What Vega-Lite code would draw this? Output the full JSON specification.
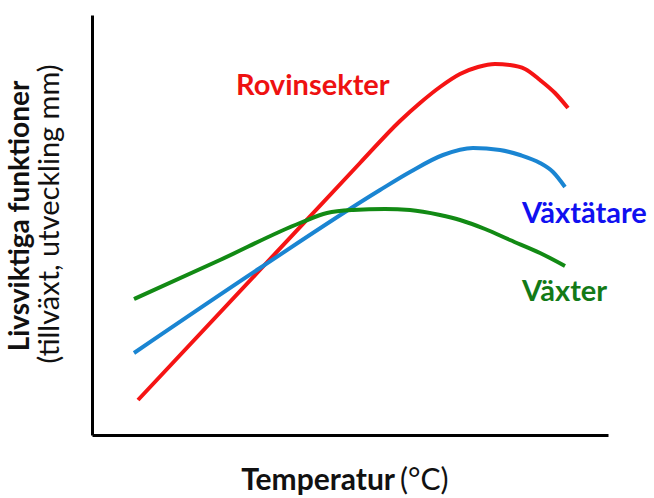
{
  "$schema": "https://vega.github.io/schema/vega-lite/v6.json",
  "width": 516,
  "height": 420,
  "autosize": {"type": "none"},
  "padding": {"left": 92, "top": 15, "right": 46, "bottom": 63},
  "background": "white",
  "config": {"view": {"stroke": null}, "font": "Lato"},
  "datasets": {
    "curves": [
      {"series": "Rovinsekter", "t": 46, "v": 35},
      {"series": "Rovinsekter", "t": 166, "v": 163},
      {"series": "Rovinsekter", "t": 268, "v": 272},
      {"series": "Rovinsekter", "t": 308, "v": 314},
      {"series": "Rovinsekter", "t": 328, "v": 332},
      {"series": "Rovinsekter", "t": 348, "v": 348},
      {"series": "Rovinsekter", "t": 368, "v": 361},
      {"series": "Rovinsekter", "t": 386, "v": 368},
      {"series": "Rovinsekter", "t": 403, "v": 371},
      {"series": "Rovinsekter", "t": 418, "v": 370},
      {"series": "Rovinsekter", "t": 433, "v": 366},
      {"series": "Rovinsekter", "t": 448, "v": 355},
      {"series": "Rovinsekter", "t": 463, "v": 342},
      {"series": "Rovinsekter", "t": 476, "v": 327},
      {"series": "Växtätare", "t": 42, "v": 82},
      {"series": "Växtätare", "t": 168, "v": 167},
      {"series": "Växtätare", "t": 288, "v": 245},
      {"series": "Växtätare", "t": 318, "v": 263},
      {"series": "Växtätare", "t": 351, "v": 280},
      {"series": "Växtätare", "t": 381, "v": 287},
      {"series": "Växtätare", "t": 408, "v": 285},
      {"series": "Växtätare", "t": 428, "v": 280},
      {"series": "Växtätare", "t": 448, "v": 272},
      {"series": "Växtätare", "t": 461, "v": 263},
      {"series": "Växtätare", "t": 473, "v": 248},
      {"series": "Växter", "t": 42, "v": 136},
      {"series": "Växter", "t": 128, "v": 175},
      {"series": "Växter", "t": 208, "v": 212},
      {"series": "Växter", "t": 235, "v": 222},
      {"series": "Växter", "t": 261, "v": 225},
      {"series": "Växter", "t": 293, "v": 226},
      {"series": "Växter", "t": 318, "v": 225},
      {"series": "Växter", "t": 348, "v": 220},
      {"series": "Växter", "t": 368, "v": 215},
      {"series": "Växter", "t": 393, "v": 206},
      {"series": "Växter", "t": 418, "v": 195},
      {"series": "Växter", "t": 448, "v": 182},
      {"series": "Växter", "t": 473, "v": 169}
    ],
    "labels": [
      {"label": "Rovinsekter", "t": 144, "v": 340},
      {"label": "Växtätare", "t": 430, "v": 212},
      {"label": "Växter", "t": 430, "v": 134}
    ],
    "xtitle": [
      {"text": "Temperatur", "part": "bold", "t": 303, "v": -55},
      {"text": "(°C)", "part": "normal", "t": 308, "v": -55}
    ],
    "ytitle": [
      {"text": "Livsviktiga funktioner", "part": "bold", "t": -71, "v": 219},
      {"text": "(tillväxt, utveckling mm)", "part": "normal", "t": -42, "v": 221}
    ]
  },
  "layer": [
    {
      "data": {"name": "curves"},
      "mark": {"type": "line", "strokeWidth": 4, "interpolate": "monotone", "strokeCap": "butt"},
      "encoding": {
        "x": {"field": "t", "type": "quantitative", "scale": {"domain": [0, 516], "nice": false, "zero": false},
              "axis": {"title": null, "labels": false, "ticks": false, "grid": false, "domainColor": "black", "domainWidth": 3}},
        "y": {"field": "v", "type": "quantitative", "scale": {"domain": [0, 420], "nice": false, "zero": false},
              "axis": {"title": null, "labels": false, "ticks": false, "grid": false, "domainColor": "black", "domainWidth": 3}},
        "color": {"field": "series", "type": "nominal", "legend": null,
                  "scale": {"domain": ["Rovinsekter", "Växtätare", "Växter"], "range": ["#f51414", "#1a85d2", "#128a14"]}},
        "detail": {"field": "series"}
      }
    },
    {
      "data": {"name": "labels"},
      "mark": {"type": "text", "fontSize": 29, "fontWeight": "bold", "align": "left", "baseline": "alphabetic", "clip": false},
      "encoding": {
        "x": {"field": "t", "type": "quantitative"},
        "y": {"field": "v", "type": "quantitative"},
        "text": {"field": "label"},
        "color": {"field": "label", "type": "nominal", "legend": null,
                  "scale": {"domain": ["Rovinsekter", "Växtätare", "Växter"], "range": ["#ee1111", "#1010f0", "#137a17"]}}
      }
    },
    {
      "data": {"name": "xtitle"},
      "transform": [{"filter": "datum.part === 'bold'"}],
      "mark": {"type": "text", "fontSize": 30, "fontWeight": "bold", "align": "right", "baseline": "alphabetic", "color": "#111111"},
      "encoding": {
        "x": {"field": "t", "type": "quantitative"},
        "y": {"field": "v", "type": "quantitative"},
        "text": {"field": "text"}
      }
    },
    {
      "data": {"name": "xtitle"},
      "transform": [{"filter": "datum.part === 'normal'"}],
      "mark": {"type": "text", "fontSize": 30, "fontWeight": "normal", "align": "left", "baseline": "alphabetic", "color": "#111111"},
      "encoding": {
        "x": {"field": "t", "type": "quantitative"},
        "y": {"field": "v", "type": "quantitative"},
        "text": {"field": "text"}
      }
    },
    {
      "data": {"name": "ytitle"},
      "transform": [{"filter": "datum.part === 'bold'"}],
      "mark": {"type": "text", "fontSize": 28, "fontWeight": "bold", "align": "center", "baseline": "middle", "angle": 270, "color": "#111111"},
      "encoding": {
        "x": {"field": "t", "type": "quantitative"},
        "y": {"field": "v", "type": "quantitative"},
        "text": {"field": "text"}
      }
    },
    {
      "data": {"name": "ytitle"},
      "transform": [{"filter": "datum.part === 'normal'"}],
      "mark": {"type": "text", "fontSize": 29, "fontWeight": "normal", "align": "center", "baseline": "middle", "angle": 270, "color": "#111111"},
      "encoding": {
        "x": {"field": "t", "type": "quantitative"},
        "y": {"field": "v", "type": "quantitative"},
        "text": {"field": "text"}
      }
    }
  ],
  "resolve": {"scale": {"color": "independent"}}
}
